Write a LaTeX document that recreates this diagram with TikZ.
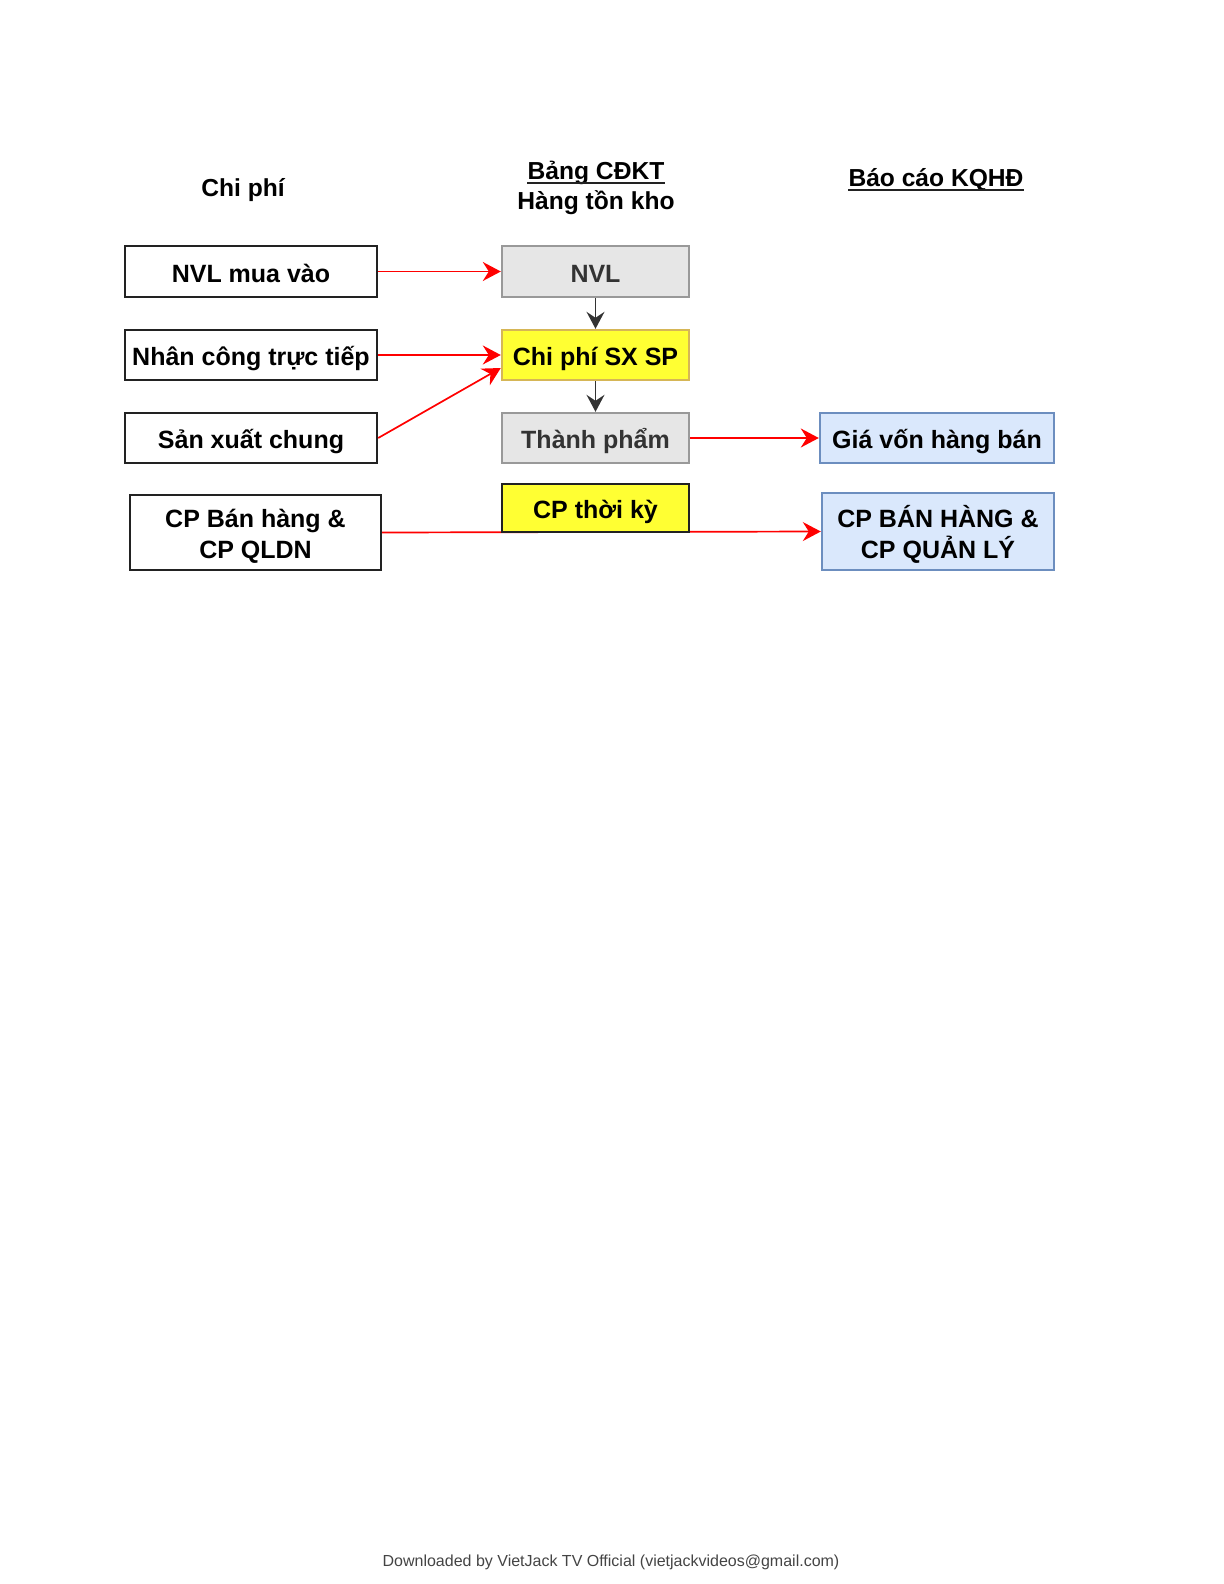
\documentclass[tikz,border=0pt]{standalone}
\usepackage{fontspec}
\setmainfont{Liberation Sans}
\usetikzlibrary{arrows.meta,calc}
\definecolor{grayfill}{HTML}{E6E6E6}
\definecolor{graystroke}{HTML}{999999}
\definecolor{yellowfill}{HTML}{FFFF33}
\definecolor{yellowstroke}{HTML}{D6B656}
\definecolor{bluefill}{HTML}{DAE8FC}
\definecolor{bluestroke}{HTML}{6C8EBF}
\definecolor{darktext}{HTML}{333333}
\definecolor{boxstroke}{HTML}{222222}
\definecolor{footgray}{HTML}{444444}
\newcommand{\twolines}[3]{\raisebox{#1}[0pt][0pt]{\begin{tabular}[t]{@{}c@{}}#2\\#3\end{tabular}}}
\tikzset{
  box/.style={draw=boxstroke, line width=1.2pt, fill=white,
    font=\fontsize{12.5}{15.75}\selectfont\bfseries,
    inner sep=0pt, align=center},
  oneline/.style={text height=11pt, text depth=0.5pt},
  graybox/.style={box, oneline, fill=grayfill, draw=graystroke, text=darktext},
  yellowbox/.style={box, oneline, fill=yellowfill, draw=yellowstroke},
  bluebox/.style={box, fill=bluefill, draw=bluestroke},
  header/.style={font=\fontsize{12.3}{15}\selectfont\bfseries, inner sep=0pt, anchor=base},
  redarrow/.style={draw=red, line width=0.85pt, -{Stealth[length=9pt, width=9.5pt, inset=3pt]}},
  blackarrow/.style={draw=darktext, line width=0.85pt, -{Stealth[length=8.5pt, width=9pt, inset=3pt]}},
}
\begin{document}
\begin{tikzpicture}[x=0.5pt, y=-0.5pt]
\useasboundingbox (0,0) rectangle (1224,1584);
% headers
\node[header] (h1) at (243,196) {Chi phí};
\node[header] (h2a) at (596,179.3) {Bảng CĐKT};
\node[header] (h2b) at (596,209) {Hàng tồn kho};
\node[header] (h3) at (936,186) {Báo cáo KQHĐ};
\draw[boxstroke, line width=1pt] ([yshift=-1.9pt]h2a.base west) -- ([yshift=-1.9pt]h2a.base east);
\draw[boxstroke, line width=1pt] ([yshift=-1.9pt]h3.base west) -- ([yshift=-1.9pt]h3.base east);
% left column
\node[box, oneline, minimum width=126pt, minimum height=25.5pt] (nvlmua) at (251,271.5) {NVL mua vào};
\node[box, oneline, minimum width=126pt, minimum height=25pt] (nctt) at (251,355) {Nhân công trực tiếp};
\node[box, oneline, minimum width=126pt, minimum height=25pt] (sxc) at (251,438) {Sản xuất chung};
\node[box, minimum width=125.5pt, minimum height=37.5pt] (cpbh) at (255.5,532.5) {\twolines{2.75pt}{CP Bán hàng \&}{CP QLDN}};
% middle column
\node[graybox, minimum width=93.5pt, minimum height=25.5pt] (nvl) at (595.5,271.5) {NVL};
\node[yellowbox, minimum width=93.5pt, minimum height=25pt] (cpsx) at (595.5,355) {Chi phí SX SP};
\node[graybox, minimum width=93.5pt, minimum height=25pt] (tp) at (595.5,438) {Thành phẩm};
% right column
\node[bluebox, oneline, minimum width=117pt, minimum height=25pt] (gvhb) at (937,438) {Giá vốn hàng bán};
\node[bluebox, minimum width=116pt, minimum height=38.5pt] (cpbh2) at (938,531.5) {\twolines{2.25pt}{CP BÁN HÀNG \&}{CP QUẢN LÝ}};
% connector passing behind CP thoi ky
\draw[redarrow] (cpbh.east) -- (cpbh2.west);
\node[box, oneline, fill=yellowfill, minimum width=93.5pt, minimum height=24pt] (cptk) at (595.5,508) {CP thời kỳ};
% connectors
\draw[redarrow] (nvlmua.east) -- (nvl.west);
\draw[redarrow] (nctt.east) -- (cpsx.west);
\draw[redarrow] (sxc.east) -- ([yshift=-6.5pt]cpsx.west);
\draw[blackarrow] (nvl.south) -- (cpsx.north);
\draw[blackarrow] (cpsx.south) -- (tp.north);
\draw[redarrow] (tp.east) -- (gvhb.west);
% footer
\node[font=\fontsize{8}{10}\selectfont, text=footgray, inner sep=0pt] (foot) at (611,1562) {Downloaded by VietJack TV Official (vietjackvideos@gmail.com)};
\end{tikzpicture}
\end{document}
